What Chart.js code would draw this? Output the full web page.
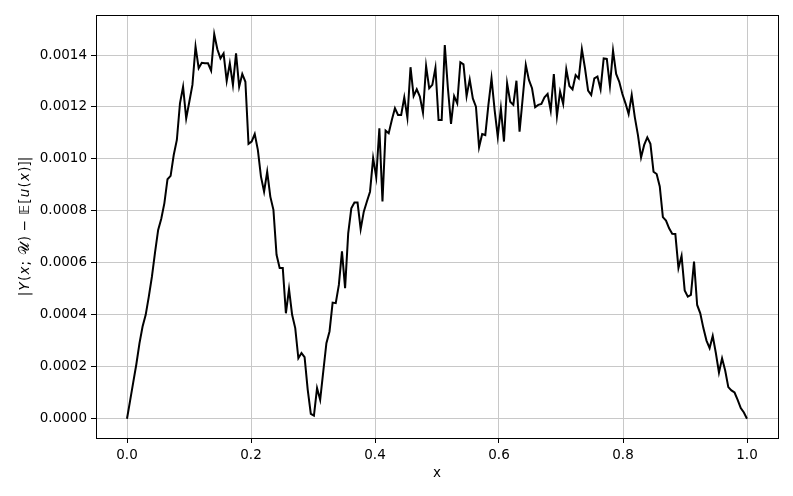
<!DOCTYPE html>
<html><head><meta charset="utf-8">
<script src="https://cdn.jsdelivr.net/npm/chart.js@4.4.0/dist/chart.umd.min.js"></script>
<style>html,body{margin:0;padding:0;background:#fff}canvas{display:block}</style>
</head><body>
<canvas id="c" width="793" height="496"></canvas>
<script>
// Sampling grid: 200 points evenly spaced on [0, 1]
const N = 200;
const xStart = 0, xEnd = 1;

// |Y(x;U) - E[u(x)]| values, in order of x
const errA = [
  0, 0.00007, 0.00014, 0.00021, 0.00029, 0.000355, 0.0004, 0.00047, 0.000547, 0.00064,
  0.000727, 0.00077, 0.00083, 0.000922, 0.000935, 0.001015, 0.001073, 0.001214, 0.001278, 0.001156,
  0.00122, 0.001285, 0.001432, 0.001349, 0.00137, 0.001368, 0.001368, 0.00134, 0.00148, 0.001422,
  0.001387, 0.001406, 0.0013, 0.001368, 0.001285, 0.001406, 0.001278, 0.001327, 0.001297, 0.001058
];
const errB = [
  0.001067, 0.001096, 0.001035, 0.000932, 0.000874, 0.000951, 0.000855, 0.000804, 0.000631, 0.00058,
  0.00058, 0.000406, 0.000499, 0.0004, 0.000349, 0.000233, 0.000253, 0.000237, 0.000112, 0.000019,
  0.000012, 0.000118, 0.000073, 0.000182, 0.000291, 0.000336, 0.000447, 0.000445, 0.000515, 0.000644,
  0.000503, 0.000714, 0.00081, 0.000832, 0.000832, 0.00073, 0.000797, 0.000836, 0.000874, 0.001003
];
const errC = [
  0.00093, 0.001118, 0.000836, 0.001109, 0.001099, 0.00115, 0.001195, 0.001169, 0.001169, 0.001237,
  0.001159, 0.001353, 0.001242, 0.001268, 0.00124, 0.001178, 0.001358, 0.001272, 0.001285, 0.001351,
  0.00115, 0.00115, 0.001438, 0.001272, 0.001135, 0.001242, 0.001214, 0.001372, 0.001364, 0.001242,
  0.001306, 0.001233, 0.001201, 0.001045, 0.001096, 0.001092, 0.001208, 0.00131, 0.001188, 0.001086
];
const errD = [
  0.001195, 0.001067, 0.001291, 0.00122, 0.001208, 0.001301, 0.001105, 0.001233, 0.001362, 0.001304,
  0.001272, 0.001199, 0.001208, 0.001212, 0.001237, 0.00125, 0.001186, 0.001327, 0.001165, 0.001259,
  0.001212, 0.001345, 0.001281, 0.001268, 0.001323, 0.00131, 0.001422, 0.001349, 0.001263, 0.001246,
  0.00131, 0.001317, 0.001268, 0.001387, 0.001385, 0.001281, 0.001417, 0.001327, 0.001297, 0.00125
];
const errE = [
  0.001214, 0.001173, 0.001246, 0.00116, 0.001092, 0.001006, 0.001054, 0.001083, 0.001058, 0.000951,
  0.000942, 0.000894, 0.000776, 0.000763, 0.000733, 0.000712, 0.000711, 0.00058, 0.000627, 0.000494,
  0.00047, 0.000477, 0.000605, 0.000438, 0.000406, 0.000349, 0.000301, 0.000272, 0.000319, 0.000253,
  0.000178, 0.000233, 0.000186, 0.000122, 0.000109, 0.000101, 0.000073, 0.000041, 0.000024, 0
];

const xTicks = [0, 0.2, 0.4, 0.6, 0.8, 1.0];
const yTicks = [0, 0.0002, 0.0004, 0.0006, 0.0008, 0.0010, 0.0012, 0.0014];
const xTitle = 'x';
// y title: |Y(x; 𝒰) − 𝔼[u(x)]|  (pieces flagged italic where matplotlib mathtext uses italics)
const yTitleParts = [
  ['|', false], ['Y', true], ['(', false], ['x', true], ['; ', false], ['𝒰', false],
  [') − ', false], ['𝔼', false], ['[', false], ['u', true], ['(', false], ['x', true], [')]|', false]
];

const errValues = [...errA, ...errB, ...errC, ...errD, ...errE];
const xValues = Array.from({length: N}, (_, i) => xStart + (xEnd - xStart) * i / (N - 1));
const points = xValues.map((x, i) => ({x: x, y: errValues[i]}));

const yMaxData = Math.max(...errValues), yMinData = Math.min(...errValues);
const yPad = 0.05 * (yMaxData - yMinData);

const FONT = 'DejaVu Sans';
const FS = 13.5;

const framePlugin = {
  id: 'frame',
  afterDatasetsDraw(chart) {
    const {left, top, right, bottom} = chart.chartArea;
    const ctx = chart.ctx;
    ctx.save();
    ctx.strokeStyle = '#000';
    ctx.lineWidth = 1;
    ctx.strokeRect(Math.round(left) + 0.5, Math.round(top) + 0.5, Math.round(right - left), Math.round(bottom - top));
    ctx.restore();
  }
};

const yTitlePlugin = {
  id: 'ytitle',
  afterDraw(chart) {
    const ctx = chart.ctx;
    const {top, bottom} = chart.chartArea;
    const cy = (top + bottom) / 2;
    const cx = 25;
    const gap = 1.2; // slight extra spacing between pieces, like mathtext
    ctx.save();
    let total = 0;
    const widths = yTitleParts.map(([t, it]) => {
      ctx.font = (it ? 'italic ' : '') + FS + 'px "' + FONT + '"';
      const w = ctx.measureText(t).width + gap;
      total += w;
      return w;
    });
    total -= gap;
    ctx.translate(cx, cy);
    ctx.rotate(-Math.PI / 2);
    ctx.fillStyle = '#000';
    ctx.textBaseline = 'middle';
    ctx.textAlign = 'left';
    let x = -total / 2;
    yTitleParts.forEach(([t, it], i) => {
      ctx.font = (it ? 'italic ' : '') + FS + 'px "' + FONT + '"';
      ctx.fillText(t, x, 0);
      x += widths[i];
    });
    ctx.restore();
  }
};

new Chart(document.getElementById('c').getContext('2d'), {
  type: 'line',
  data: {
    datasets: [{
      data: points,
      borderColor: '#000',
      borderWidth: 2,
      pointRadius: 0,
      tension: 0,
      fill: false
    }]
  },
  options: {
    responsive: false,
    animation: false,
    devicePixelRatio: 1,
    layout: {padding: {left: 0, right: 15, top: 15, bottom: 0}},
    plugins: {legend: {display: false}, tooltip: {enabled: false}},
    scales: {
      x: {
        type: 'linear',
        min: -0.05, max: 1.05,
        afterBuildTicks: s => { s.ticks = xTicks.map(v => ({value: v})); },
        afterFit: s => { s.height = 58; },
        grid: {color: '#c8c8c8', lineWidth: 1, tickColor: '#000', tickLength: 5, drawTicks: true},
        border: {display: false},
        ticks: {font: {family: FONT, size: FS}, color: '#000', padding: 4, maxRotation: 0, callback: v => Number(v).toFixed(1)},
        title: {display: true, text: xTitle, font: {family: FONT, size: FS}, color: '#000', padding: {top: 0, bottom: 14}}
      },
      y: {
        type: 'linear',
        min: yMinData - yPad, max: yMaxData + yPad,
        afterBuildTicks: s => { s.ticks = yTicks.map(v => ({value: v})); },
        afterFit: s => { s.width = 96; },
        grid: {color: '#c8c8c8', lineWidth: 1, tickColor: '#000', tickLength: 5, drawTicks: true},
        border: {display: false},
        ticks: {font: {family: FONT, size: FS}, color: '#000', padding: 4, callback: v => Number(v).toFixed(4)},
        title: {display: false}
      }
    }
  },
  plugins: [framePlugin, yTitlePlugin]
});
</script>
</body></html>
